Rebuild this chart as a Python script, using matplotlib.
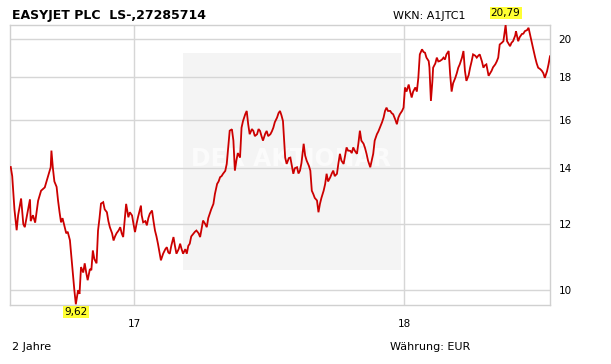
import matplotlib
matplotlib.use("Agg")
import matplotlib.pyplot as plt
from matplotlib.patches import Rectangle
import numpy as np
import pandas as pd

title = "EASYJET PLC  LS-,27285714"
wkn = "WKN: A1JTC1"
period_label = "2 Jahre"
currency_label = "Währung: EUR"
watermark = "DER AKTIONÄR"
start_date = "2016-07-17"
end_day = 730
year_ticks = ["2017-01-01", "2018-01-01"]
year_labels = ["17", "18"]
y_ticks = [10, 12, 14, 16, 18, 20]

days = [1, 3, 6, 9, 11, 15, 18, 20, 23, 27, 28, 31, 34, 38, 42, 47, 51, 55, 56, 58,
        60, 63, 65, 67, 69, 71, 74, 76, 78, 81, 83, 85, 87, 89, 90, 92, 94, 96, 99, 101,
        103, 105, 108, 110, 112, 114, 117, 119, 121, 123, 126, 128, 131, 133, 135, 138, 140, 142, 144, 147,
        149, 151, 153, 157, 160, 162, 165, 167, 169, 171, 173, 177, 178, 180, 183, 185, 187, 189, 192, 194,
        196, 198, 200, 204, 206, 207, 210, 212, 214, 216, 218, 221, 223, 225, 228, 230, 232, 234, 237, 239,
        241, 243, 245, 248, 250, 252, 255, 257, 259, 261, 264, 266, 268, 270, 272, 275, 277, 280, 282, 284,
        286, 288, 291, 293, 295, 297, 300, 302, 304, 306, 308, 311, 313, 315, 318, 320, 322, 324, 327, 329,
        331, 334, 336, 338, 340, 342, 345, 347, 349, 352, 354, 356, 358, 361, 363, 365, 367, 369, 372, 374,
        377, 379, 381, 383, 385, 388, 390, 392, 394, 397, 399, 401, 404, 406, 408, 410, 412, 415, 417, 419,
        421, 424, 426, 428, 430, 433, 435, 437, 439, 442, 444, 446, 448, 451, 453, 455, 457, 460, 462, 464,
        466, 469, 471, 473, 475, 478, 480, 482, 484, 487, 489, 491, 493, 496, 498, 500, 503, 505, 507, 509,
        511, 514, 516, 518, 521, 523, 525, 527, 530, 532, 534, 536, 539, 541, 543, 545, 548, 550, 552, 554,
        557, 559, 561, 563, 566, 567, 569, 571, 572, 575, 577, 579, 581, 584, 586, 588, 590, 593, 595, 597,
        599, 602, 604, 606, 608, 611, 613, 615, 617, 620, 622, 624, 626, 629, 631, 633, 635, 638, 640, 642,
        644, 647, 649, 651, 653, 656, 658, 660, 662, 665, 667, 670, 672, 674, 676, 678, 680, 683, 684, 687,
        689, 692, 694, 696, 699, 701, 704, 707, 710, 712, 714, 717, 719, 721, 723, 726, 728, 730]

prices = [14.05, 13.7, 12.5, 11.8, 12.3, 12.88, 12.0, 11.9, 12.3, 12.85, 12.1, 12.3, 12.05, 12.8, 13.16, 13.28, 13.66, 14.04, 14.7, 14.0,
          13.5, 13.3, 12.8, 12.4, 12.06, 12.2, 11.9, 11.7, 11.75, 11.48, 10.96, 10.48, 10.0, 9.62, 9.75, 10.0, 9.9, 10.66, 10.5, 10.77,
          10.5, 10.28, 10.6, 10.57, 11.16, 10.9, 10.77, 11.79, 12.2, 12.7, 12.75, 12.5, 12.4, 12.1, 11.9, 11.7, 11.47, 11.6, 11.7, 11.8,
          11.9, 11.7, 11.58, 12.69, 12.23, 12.4, 12.29, 12.0, 11.74, 12.0, 12.23, 12.63, 12.3, 12.06, 12.1, 11.96, 12.2, 12.35, 12.46, 12.1,
          11.79, 11.6, 11.37, 10.86, 11.0, 11.06, 11.2, 11.26, 11.1, 11.06, 11.3, 11.58, 11.3, 11.06, 11.2, 11.37, 11.2, 11.06, 11.2, 11.06,
          11.3, 11.37, 11.6, 11.69, 11.75, 11.79, 11.7, 11.58, 11.85, 12.12, 12.0, 11.9, 12.2, 12.35, 12.5, 12.69, 13.04, 13.41, 13.5, 13.66,
          13.7, 13.79, 13.9, 14.17, 14.83, 15.53, 15.59, 15.11, 13.91, 14.3, 14.6, 14.42, 15.66, 15.95, 16.25, 16.4, 15.81, 15.38, 15.6, 15.52,
          15.3, 15.38, 15.6, 15.52, 15.3, 15.11, 15.4, 15.52, 15.3, 15.38, 15.5, 15.66, 15.9, 16.1, 16.3, 16.4, 16.2, 15.95, 14.42, 14.17,
          14.4, 14.42, 14.1, 13.79, 14.0, 14.04, 13.8, 13.91, 14.2, 14.98, 14.5, 14.3, 14.1, 13.91, 13.16, 13.04, 12.9, 12.81, 12.4, 12.69,
          12.9, 13.16, 13.4, 13.79, 13.5, 13.66, 13.8, 13.91, 13.7, 13.79, 14.2, 14.57, 14.3, 14.17, 14.5, 14.83, 14.7, 14.69, 14.6, 14.83,
          14.7, 14.57, 15.0, 15.53, 15.11, 14.98, 14.8, 14.57, 14.3, 14.04, 14.3, 14.57, 15.11, 15.38, 15.5, 15.66, 15.9, 16.1, 16.4, 16.55,
          16.4, 16.4, 16.3, 16.25, 16.0, 15.81, 16.1, 16.25, 16.4, 16.55, 17.5, 17.3, 17.64, 17.3, 17.02, 17.3, 17.5, 17.3, 17.97, 19.17,
          19.44, 19.3, 19.26, 19.0, 18.82, 18.5, 16.86, 17.8, 18.48, 18.7, 19.0, 18.8, 18.82, 18.9, 19.0, 18.9, 19.17, 19.35, 18.15, 17.3,
          17.7, 17.97, 18.2, 18.48, 18.65, 19.0, 19.35, 18.32, 17.82, 18.1, 18.48, 18.8, 19.17, 19.1, 19.0, 19.1, 19.17, 18.8, 18.48, 18.6,
          18.65, 18.07, 18.2, 18.32, 18.5, 18.65, 18.8, 19.0, 19.7, 19.8, 19.88, 20.79, 19.88, 19.75, 19.61, 19.8, 19.88, 20.2, 20.44, 19.88,
          20.1, 20.28, 20.3, 20.44, 20.5, 20.63, 20.06, 19.52, 19.0, 18.7, 18.48, 18.4, 18.32, 18.2, 17.97, 18.3, 18.65, 19.07]

W, H = 611, 364
fig = plt.figure(figsize=(W / 100, H / 100), dpi=100)
fig.patch.set_facecolor("white")
ax = fig.add_axes([10 / W, 1 - 305 / H, 540 / W, 280 / H])

start = pd.Timestamp(start_date)
dates = start + pd.to_timedelta(days, unit="D")
values = np.array(prices)

ax.set_yscale("log")
ax.set_xlim(start, start + pd.Timedelta(days=end_day))
ax.set_ylim(9.6, 20.79)

ax.add_patch(Rectangle((0.32, 0.125), 0.404, 0.775, transform=ax.transAxes,
                       facecolor="#f4f4f4", edgecolor="none", zorder=0.2))
ax.text(0.52, 0.52, watermark, transform=ax.transAxes, ha="center", va="center",
        fontsize=17, fontweight="bold", color="#fbfbfb", zorder=0.3)

ax.plot(dates, values, color="#cc0000", lw=1.3, zorder=3, solid_joinstyle="miter")

ax.set_axisbelow(True)
ax.set_yticks(y_ticks)
ax.set_yticklabels([str(t) for t in y_ticks])
ax.yaxis.set_minor_locator(matplotlib.ticker.NullLocator())
ax.yaxis.tick_right()
ax.set_xticks(pd.to_datetime(year_ticks))
ax.set_xticklabels(year_labels)
ax.tick_params(axis="y", length=0, pad=6, labelsize=7.5, colors="black")
ax.tick_params(axis="x", length=0, pad=10, labelsize=7.5, colors="black")
ax.grid(True, color="#d6d6d6", lw=1)
for s in ax.spines.values():
    s.set_color("#d0d0d0")
    s.set_linewidth(1)

imax = int(np.argmax(values))
imin = int(np.argmin(values))
fmt = lambda v: f"{v:.2f}".replace(".", ",")
ax.annotate(fmt(values[imax]), xy=(dates[imax], values[imax]), xytext=(0, 5),
            textcoords="offset points", ha="center", va="bottom", fontsize=7.5,
            bbox=dict(boxstyle="square,pad=0.1", fc="#ffff33", ec="none"),
            annotation_clip=False, zorder=5)
ax.annotate(fmt(values[imin]), xy=(dates[imin], values[imin]), xytext=(0, -2),
            textcoords="offset points", ha="center", va="top", fontsize=7.5,
            bbox=dict(boxstyle="square,pad=0.1", fc="#ffff33", ec="none"),
            annotation_clip=False, zorder=5)

fig.text(12 / W, 1 - 15 / H, title, fontsize=9, fontweight="bold", va="center", ha="left")
fig.text(393 / W, 1 - 16 / H, wkn, fontsize=8, va="center", ha="left")
fig.text(12 / W, 1 - 347 / H, period_label, fontsize=8, va="center", ha="left")
fig.text(390 / W, 1 - 347 / H, currency_label, fontsize=8, va="center", ha="left")

fig.savefig("out.png", dpi=100, facecolor="white")
